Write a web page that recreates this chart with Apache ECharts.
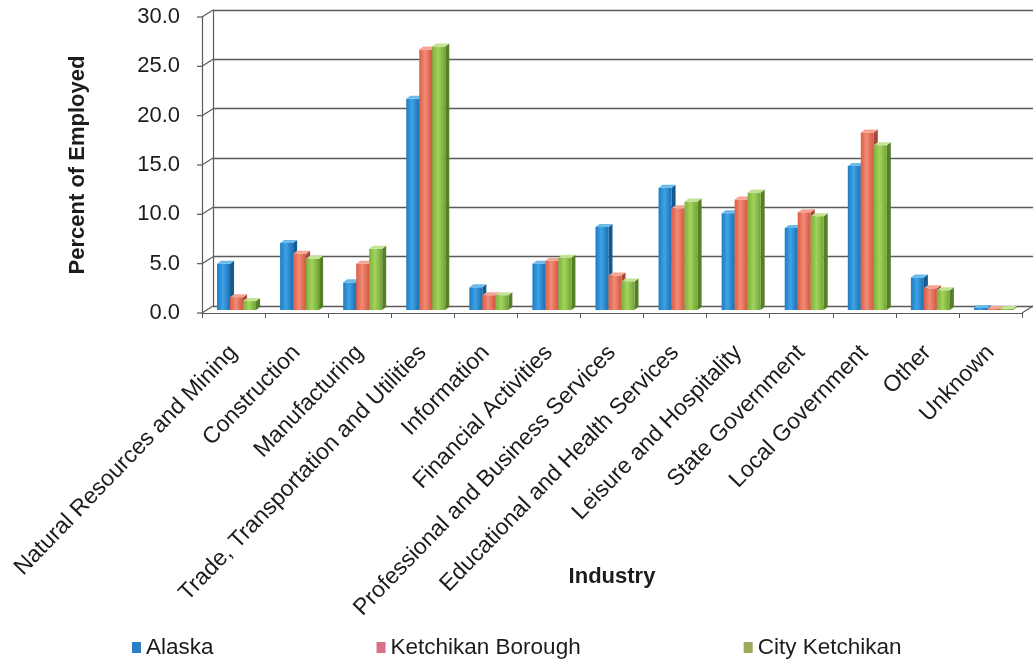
<!DOCTYPE html>
<html>
<head>
<meta charset="utf-8">
<script src="https://cdn.jsdelivr.net/npm/echarts@6/dist/echarts.min.js"></script>
<style>
  html, body { margin: 0; padding: 0; background: #fff; }
  #chart { width: 1033px; height: 660px; }
</style>
</head>
<body>
<div id="chart"></div>
<script>
// Employment share by industry, percent of employed
const categories = [
  'Natural Resources and Mining', 'Construction', 'Manufacturing',
  'Trade, Transportation and Utilities', 'Information', 'Financial Activities',
  'Professional and Business Services', 'Educational and Health Services',
  'Leisure and Hospitality', 'State Government', 'Local Government', 'Other', 'Unknown'
];
const seriesNames = ['Alaska', 'Ketchikan Borough', 'City Ketchikan'];
const alaska  = [4.7, 6.8, 2.8, 21.4, 2.3, 4.7, 8.4, 12.4, 9.8, 8.3, 14.6, 3.3, 0.2];
const borough = [1.3, 5.7, 4.7, 26.4, 1.5, 5.0, 3.5, 10.3, 11.2, 9.9, 18.0, 2.2, 0.1];
const city    = [0.9, 5.2, 6.2, 26.7, 1.5, 5.3, 2.9, 11.0, 11.9, 9.5, 16.7, 2.0, 0.1];
const yTicks  = [0, 5, 10, 15, 20, 25, 30];

// shading for each bar: front gradient stops, top face, side face, legend swatch
const palette = [
  { front: ['#1b7cc4', '#3fa2e4', '#1a70b2'], top: '#6cb9ec', side: '#125a90', legend: '#2a7fc4' },
  { front: ['#dc5c47', '#f28c74', '#d05644'], top: '#f5a592', side: '#a44638', legend: '#d9708a' },
  { front: ['#7cb13c', '#a2d35c', '#70a436'], top: '#c2e294', side: '#577f28', legend: '#9aab5a' }
];

const FONT = 'Liberation Sans, Arial, sans-serif';
const TXT = '#1c1c1c';
const LINE = '#5a5a5a';
const DX = 11, DY = 7;   // depth offset of the back wall

function barRenderer(s) {
  const c = palette[s];
  return function (params, api) {
    const cat = api.value(0), v = api.value(1);
    const p0 = api.coord([cat, 0]);
    const p1 = api.coord([cat, v]);
    const bw = 13, dx = 4, dy = 3, sx = 3, sy = -3;
    const x = p0[0] - 1.5 * bw + s * bw + sx;
    const yb = p0[1] + sy, yt = p1[1] + sy;
    const h = Math.max(yb - yt, 0.5);
    return {
      type: 'group',
      children: [
        { type: 'polygon', shape: { points: [[x + bw, yt], [x + bw + dx, yt - dy], [x + bw + dx, yb - dy], [x + bw, yb]] },
          style: { fill: c.side } },
        { type: 'rect', shape: { x: x, y: yt, width: bw, height: h },
          style: { fill: new echarts.graphic.LinearGradient(0, 0, 1, 0, [
            { offset: 0, color: c.front[0] }, { offset: 0.45, color: c.front[1] }, { offset: 1, color: c.front[2] }
          ]) } },
        { type: 'polygon', shape: { points: [[x, yt], [x + dx, yt - dy], [x + bw + dx, yt - dy], [x + bw, yt]] },
          style: { fill: c.top } }
      ]
    };
  };
}

// slanted edges joining the front axis to the back wall
function wallRenderer(params, api) {
  const v = api.value(1);
  const p = api.coord([0, v]);
  const cs = params.coordSys;
  const children = [
    { type: 'line', shape: { x1: cs.x - 5, y1: p[1], x2: cs.x, y2: p[1] }, style: { stroke: LINE, lineWidth: 1.2 } },
    { type: 'line', shape: { x1: cs.x, y1: p[1], x2: cs.x + DX, y2: p[1] - DY }, style: { stroke: LINE, lineWidth: 1.2 } }
  ];
  if (v === 0) {
    children.push({ type: 'line', shape: { x1: cs.x + cs.width, y1: p[1], x2: cs.x + cs.width + DX, y2: p[1] - DY },
      style: { stroke: LINE, lineWidth: 1.2 } });
  }
  return { type: 'group', children: children };
}

const chart = echarts.init(document.getElementById('chart'), null, { renderer: 'canvas' });

const barSeries = [alaska, borough, city].map((vals, s) => ({
  name: seriesNames[s],
  type: 'custom',
  xAxisIndex: 0, yAxisIndex: 0,
  renderItem: barRenderer(s),
  itemStyle: { color: palette[s].legend },
  encode: { x: 0, y: 1 },
  data: vals.map((v, i) => [i, v]),
  z: 5
}));

chart.setOption({
  animation: false,
  backgroundColor: '#ffffff',
  textStyle: { fontFamily: FONT },
  grid: [
    { left: 202, right: 11, top: 17, bottom: 347 },          // front frame, axes and bars
    { left: 202 + DX, right: 0, top: 17 - DY, bottom: 347 + DY } // back wall
  ],
  xAxis: [
    {
      gridIndex: 0, type: 'category', data: categories, boundaryGap: true,
      axisLine: { show: true, lineStyle: { color: LINE, width: 1.2 } },
      axisTick: { show: true, length: 5, alignWithLabel: false, lineStyle: { color: LINE } },
      axisLabel: { interval: 0, rotate: 46, margin: 36, fontSize: 23, color: TXT, fontFamily: FONT },
      splitLine: { show: false },
      name: 'Industry', nameLocation: 'middle', nameGap: 253, nameMoveOverlap: false,
      nameTextStyle: { fontSize: 22, fontWeight: 'bold', color: TXT, fontFamily: FONT }
    },
    {
      gridIndex: 1, type: 'category', data: categories, show: false
    }
  ],
  yAxis: [
    {
      gridIndex: 0, type: 'value', min: 0, max: 30, interval: 5,
      axisLine: { show: true, lineStyle: { color: LINE, width: 1.2 } },
      axisTick: { show: false },
      splitLine: { show: false },
      axisLabel: { margin: 22, fontSize: 22, color: TXT, fontFamily: FONT, formatter: v => v.toFixed(1) },
      name: 'Percent of Employed', nameLocation: 'middle', nameGap: 113, nameRotate: 90, nameMoveOverlap: false,
      nameTextStyle: { fontSize: 22, fontWeight: 'bold', color: TXT, fontFamily: FONT }
    },
    {
      gridIndex: 1, type: 'value', min: 0, max: 30, interval: 5,
      axisLine: { show: true, lineStyle: { color: LINE, width: 1.2 } },
      axisTick: { show: false },
      axisLabel: { show: false },
      splitLine: { show: true, lineStyle: { color: LINE, width: 1.4 } }
    }
  ],
  legend: {
    left: 132, top: 636, padding: 0,
    icon: 'rect', itemWidth: 9, itemHeight: 11, itemGap: 163,
    textStyle: { fontSize: 22.5, color: TXT, fontFamily: FONT },
    data: seriesNames
  },
  series: [
    {
      type: 'custom', name: 'wall', xAxisIndex: 0, yAxisIndex: 0,
      renderItem: wallRenderer, encode: { x: 0, y: 1 },
      data: yTicks.map(v => [0, v]), silent: true, z: 3
    }
  ].concat(barSeries)
});
</script>
</body>
</html>
